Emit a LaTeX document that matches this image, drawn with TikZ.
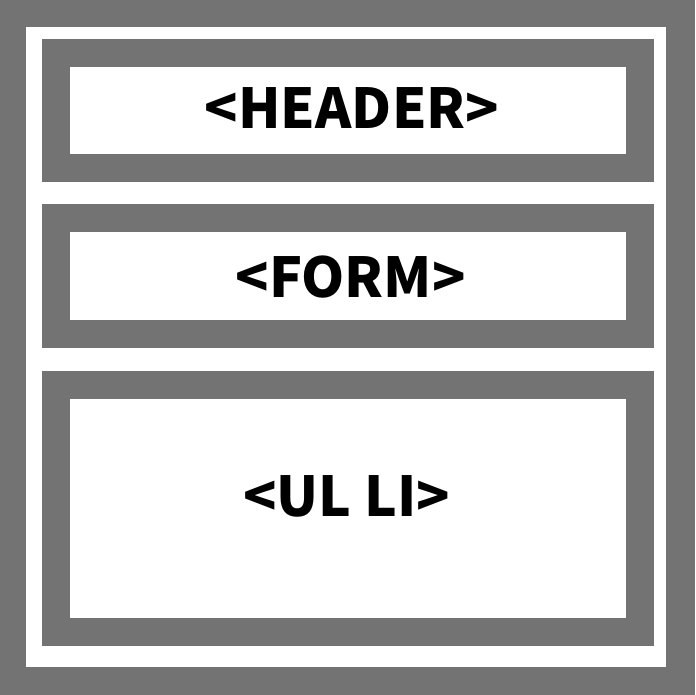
\documentclass[tikz,border=0pt]{standalone}
\usepackage{fontspec}
\setmainfont{Noto Sans CJK SC}
\definecolor{wallgray}{RGB}{115,115,115}
\tikzset{
  tag/.style={font=\fontsize{55}{58}\selectfont\bfseries, inner sep=0pt, anchor=center}
}
\begin{document}
\begin{tikzpicture}[x=1pt,y=-1pt]
      \fill[wallgray] (0,0) rectangle (695,695);
      \fill[white] (26,27) rectangle (666,667);
      \fill[wallgray] (42,39) rectangle (654,182);
      \fill[wallgray] (42,204) rectangle (654,348);
      \fill[wallgray] (42,371) rectangle (654,646);
      \fill[white] (70,67) rectangle (626,154);
      \fill[white] (70,232) rectangle (626,320);
      \fill[white] (70,399) rectangle (626,618);
      \draw
        (352,108) node[tag] (header){<HEADER>}
        (350.5,277) node[tag] (form){<FORM>}
        (346.5,496) node[tag] (ulli){<UL LI>};
    \end{tikzpicture}
\end{document}
